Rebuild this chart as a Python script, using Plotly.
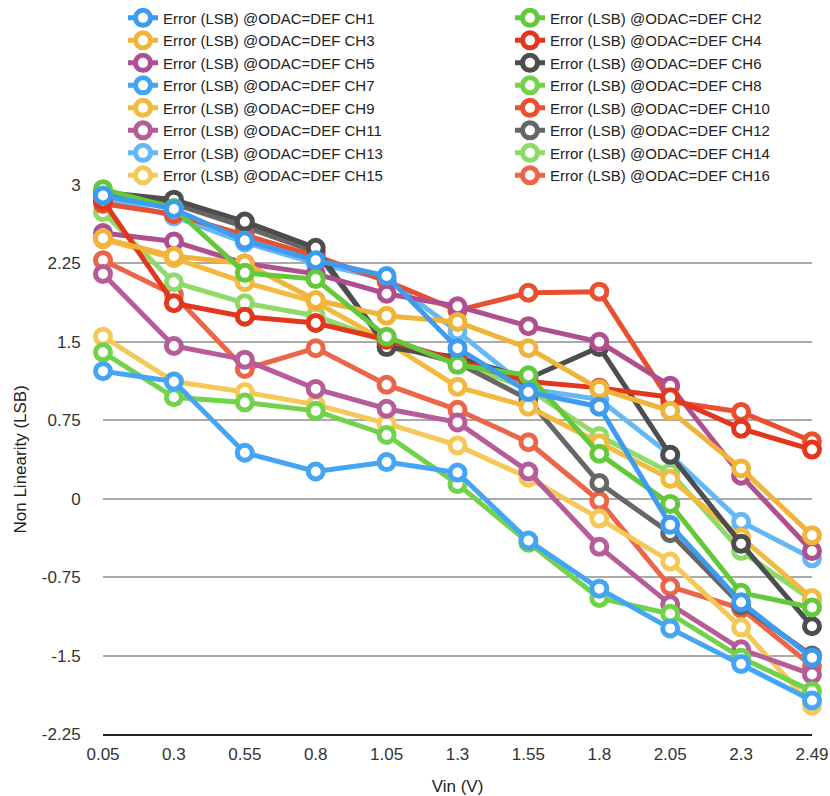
import plotly.graph_objects as go

vin = ["0.05", "0.3", "0.55", "0.8", "1.05", "1.3", "1.55", "1.8", "2.05", "2.3", "2.49"]

ch1 = [2.90, 2.77, 2.47, 2.28, 2.13, 1.44, 1.02, 0.88, -0.25, -0.99, -1.52]
ch2 = [2.96, 2.78, 2.16, 2.10, 1.55, 1.28, 1.18, 0.43, -0.05, -0.90, -1.04]
ch3 = [2.49, 2.32, 2.25, 1.90, 1.75, 1.69, 1.44, 1.05, 0.84, 0.29, -0.35]
ch4 = [2.85, 1.87, 1.74, 1.68, 1.52, 1.32, 1.12, 1.06, 0.97, 0.67, 0.47]
ch5 = [2.54, 2.46, 2.25, 2.15, 1.96, 1.84, 1.65, 1.50, 1.08, 0.22, -0.50]
ch6 = [2.93, 2.86, 2.65, 2.40, 1.45, 1.35, 1.15, 1.45, 0.42, -0.43, -1.22]
ch7 = [1.22, 1.12, 0.44, 0.26, 0.35, 0.25, -0.40, -0.86, -1.24, -1.58, -1.93]
ch8 = [1.40, 0.97, 0.92, 0.84, 0.61, 0.14, -0.42, -0.95, -1.10, -1.52, -1.84]
ch9 = [2.48, 2.30, 2.07, 1.88, 1.50, 1.07, 0.88, 0.53, 0.19, -0.37, -0.95]
ch10 = [2.82, 2.72, 2.52, 2.32, 2.08, 1.80, 1.97, 1.98, 0.93, 0.83, 0.55]
ch11 = [2.15, 1.46, 1.33, 1.05, 0.86, 0.73, 0.26, -0.46, -1.01, -1.44, -1.68]
ch12 = [2.92, 2.82, 2.60, 2.36, 1.48, 1.30, 0.95, 0.15, -0.33, -1.02, -1.50]
ch13 = [2.88, 2.70, 2.45, 2.25, 2.10, 1.60, 1.05, 0.95, 0.42, -0.22, -0.57]
ch14 = [2.74, 2.07, 1.87, 1.75, 1.50, 1.30, 1.05, 0.60, 0.25, -0.50, -0.97]
ch15 = [1.55, 1.12, 1.02, 0.90, 0.72, 0.51, 0.20, -0.19, -0.60, -1.23, -1.98]
ch16 = [2.28, 1.95, 1.24, 1.44, 1.09, 0.85, 0.54, -0.02, -0.84, -1.05, -1.60]

y_title = "Non Linearity (LSB)"
x_title = "Vin (V)"

names = [f"Error (LSB) @ODAC=DEF CH{i}" for i in range(1, 17)]
series = [ch1, ch2, ch3, ch4, ch5, ch6, ch7, ch8, ch9, ch10, ch11, ch12, ch13, ch14, ch15, ch16]
colors = ["#3d9cf0", "#63c93a", "#f0b43a", "#e2361d", "#b04f8f", "#4d4d4d", "#45a5f5", "#72d24a",
          "#f2bb3f", "#e9502f", "#b65c98", "#666666", "#66b8f5", "#8edb6a", "#f5c85a", "#ec6548"]

fig = go.Figure()
items = list(zip(range(1, 17), names, series, colors))
for idx, name, vals, col in reversed(items):
    fig.add_trace(go.Scatter(
        x=vin, y=vals, name=name, mode="lines+markers",
        line=dict(color=col, width=5),
        marker=dict(symbol="circle", size=15, color="white", line=dict(color=col, width=5)),
        cliponaxis=False,
        legend="legend" if idx % 2 == 1 else "legend2",
    ))

font_family = "Liberation Sans, Arial, sans-serif"
leg_common = dict(
    orientation="v", traceorder="reversed",
    xref="container", yref="container",
    y=0.998, xanchor="left", yanchor="top",
    font=dict(family=font_family, size=15, color="#222222"),
    bgcolor="rgba(0,0,0,0)", itemwidth=30, tracegroupgap=0,
)
fig.update_layout(
    width=830, height=796,
    margin=dict(l=103, r=18, t=185, b=62, autoexpand=False),
    paper_bgcolor="white", plot_bgcolor="white",
    font=dict(family=font_family, size=17, color="#333333"),
    showlegend=True,
    legend=dict(x=123 / 830, **leg_common),
    legend2=dict(x=510 / 830, **leg_common),
    xaxis=dict(
        type="category", range=[0, 10], showgrid=False,
        showline=True, linecolor="#222222", linewidth=2,
        ticks="outside", ticklen=4, tickcolor="rgba(0,0,0,0)",
        tickfont=dict(size=17, color="#333333"),
        title=dict(text=x_title, font=dict(size=17, color="#222222"), standoff=19),
        zeroline=False, automargin=False,
    ),
    yaxis=dict(
        range=[-2.25, 3], tickvals=[-2.25, -1.5, -0.75, 0, 0.75, 1.5, 2.25, 3],
        ticktext=["-2.25", "-1.5", "-0.75", "0", "0.75", "1.5", "2.25", "3"],
        showgrid=True, gridcolor="#aaaaaa", gridwidth=2,
        zeroline=False, showline=False,
        ticks="outside", ticklen=18, tickcolor="rgba(0,0,0,0)",
        tickfont=dict(size=17, color="#333333"),
        automargin=False,
    ),
    annotations=[dict(
        text=y_title, textangle=-90, showarrow=False,
        xref="paper", yref="paper", x=(20 - 103) / 709, y=0.5,
        xanchor="center", yanchor="middle",
        font=dict(size=17, color="#222222", family=font_family),
    )],
)

fig.write_html("out.html")
